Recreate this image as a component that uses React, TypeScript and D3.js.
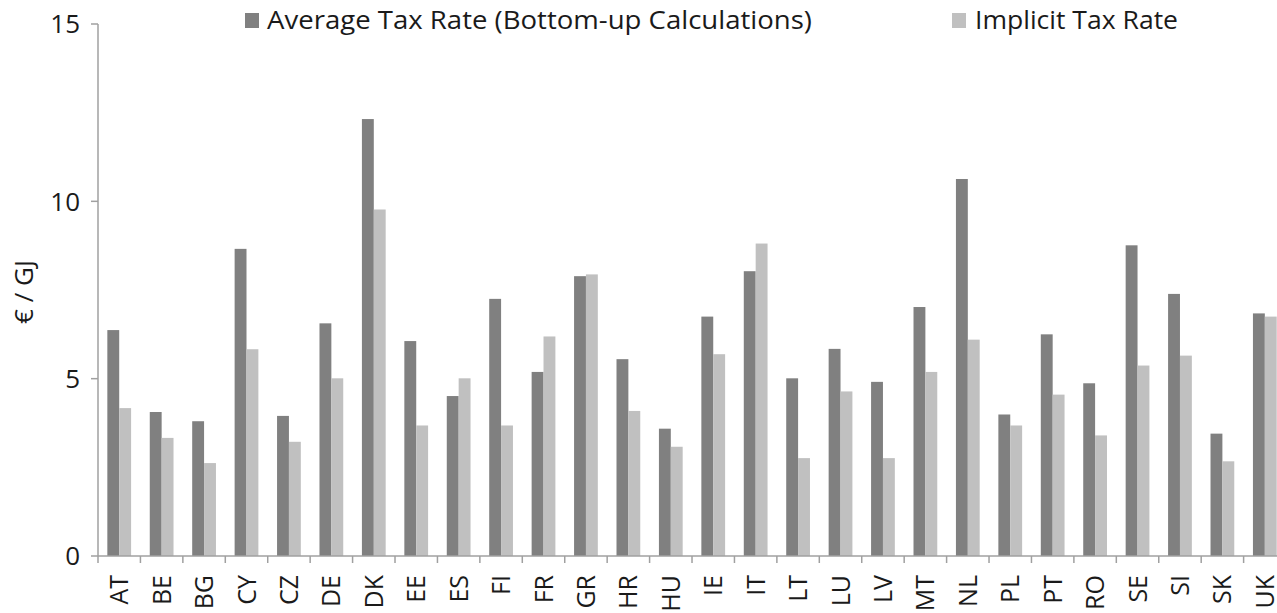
import { useRef, useEffect } from 'react';
import * as d3 from 'd3';

const countries = ['AT', 'BE', 'BG', 'CY', 'CZ', 'DE', 'DK', 'EE', 'ES', 'FI', 'FR', 'GR', 'HR', 'HU', 'IE', 'IT', 'LT', 'LU', 'LV', 'MT', 'NL', 'PL', 'PT', 'RO', 'SE', 'SI', 'SK', 'UK'];
const averageTaxRate = [6.37, 4.06, 3.8, 8.66, 3.95, 6.56, 12.32, 6.06, 4.51, 7.25, 5.19, 7.89, 5.55, 3.59, 6.75, 8.03, 5.01, 5.84, 4.91, 7.02, 10.63, 3.99, 6.25, 4.87, 8.76, 7.39, 3.45, 6.84];
const implicitTaxRate = [4.17, 3.33, 2.62, 5.83, 3.22, 5.01, 9.77, 3.68, 5.01, 3.68, 6.19, 7.94, 4.09, 3.08, 5.69, 8.81, 2.76, 4.64, 2.76, 5.19, 6.1, 3.68, 4.55, 3.4, 5.37, 5.65, 2.67, 6.75];
const seriesNames = ['Average Tax Rate (Bottom-up Calculations)', 'Implicit Tax Rate'];
const seriesColors = ['#808080', '#c0c0c0'];
const yTicks = [0, 5, 10, 15];

const W = 1277;
const H = 613;
const FONT = "'Open Sans', 'DejaVu Sans', sans-serif";

export default function App() {
  const svgRef = useRef<SVGSVGElement>(null);

  useEffect(() => {
    const svg = d3.select(svgRef.current);
    if (!svg.node()) return;
    svg.selectAll('*').remove();

    const left = 98;
    const step = 42.43;
    const xScale = d3.scaleBand<string>()
      .domain(countries)
      .range([left, left + step * countries.length])
      .paddingInner(0.44)
      .paddingOuter(0.22);
    const xSub = d3.scaleBand<number>()
      .domain([0, 1])
      .range([0, xScale.bandwidth()]);
    const yScale = d3.scaleLinear().domain([0, 15]).range([556, 24]);

    const axisColor = '#a0a0a0';
    const g = svg.append('g');

    // bars
    const series = [averageTaxRate, implicitTaxRate];
    series.forEach((vals, si) => {
      g.append('g')
        .selectAll('rect')
        .data(countries)
        .enter()
        .append('rect')
        .attr('x', d => (xScale(d) || 0) + (xSub(si) || 0))
        .attr('y', (d, i) => yScale(vals[i]))
        .attr('width', xSub.bandwidth())
        .attr('height', (d, i) => yScale(0) - yScale(vals[i]))
        .attr('fill', seriesColors[si]);
    });

    // y axis
    g.append('line')
      .attr('x1', left).attr('x2', left)
      .attr('y1', yScale(15)).attr('y2', yScale(0))
      .attr('stroke', axisColor).attr('stroke-width', 1.5);

    yTicks.forEach(t => {
      g.append('line')
        .attr('x1', left - 7).attr('x2', left)
        .attr('y1', yScale(t)).attr('y2', yScale(t))
        .attr('stroke', axisColor).attr('stroke-width', 1.5);
      g.append('text')
        .attr('x', 80)
        .attr('y', yScale(t))
        .attr('dy', '0.36em')
        .attr('text-anchor', 'end')
        .style('font-family', FONT)
        .style('font-size', '26px')
        .style('fill', '#1a1a1a')
        .text(t);
    });

    g.append('text')
      .attr('transform', `translate(33, 292) rotate(-90)`)
      .attr('text-anchor', 'middle')
      .style('font-family', FONT)
      .style('font-size', '26px')
      .style('fill', '#1a1a1a')
      .text('€ / GJ');

    // x axis
    g.append('line')
      .attr('x1', left).attr('x2', W)
      .attr('y1', yScale(0)).attr('y2', yScale(0))
      .attr('stroke', axisColor).attr('stroke-width', 1.5);

    const boundaries = countries.map(c => (xScale(c) || 0) - xScale.step() * xScale.paddingOuter());
    boundaries.forEach(bx => {
      g.append('line')
        .attr('x1', bx).attr('x2', bx)
        .attr('y1', yScale(0)).attr('y2', yScale(0) + 7)
        .attr('stroke', axisColor).attr('stroke-width', 1.5);
    });

    countries.forEach(c => {
      const cx = (xScale(c) || 0) + xScale.bandwidth() / 2;
      g.append('text')
        .attr('transform', `translate(${cx}, 575) rotate(-90)`)
        .attr('text-anchor', 'end')
        .attr('dy', '0.36em')
        .style('font-family', FONT)
        .style('font-size', '25px')
        .style('fill', '#1a1a1a')
        .text(c);
    });

    // legend
    const legendItems = [
      { sx: 245, tx: 267, len: 545 },
      { sx: 952, tx: 975, len: 203 },
    ];
    legendItems.forEach((item, i) => {
      g.append('rect')
        .attr('x', item.sx).attr('y', 13)
        .attr('width', 14).attr('height', 15)
        .attr('fill', seriesColors[i]);
      g.append('text')
        .attr('x', item.tx)
        .attr('y', 29)
        .attr('textLength', item.len)
        .attr('lengthAdjust', 'spacingAndGlyphs')
        .style('font-family', FONT)
        .style('font-size', '26px')
        .style('fill', '#1a1a1a')
        .text(seriesNames[i]);
    });
  }, []);

  return (
    <svg
      ref={svgRef}
      width={W}
      height={H}
      style={{ position: 'absolute', left: 0, top: 0, background: '#fff' }}
    />
  );
}
